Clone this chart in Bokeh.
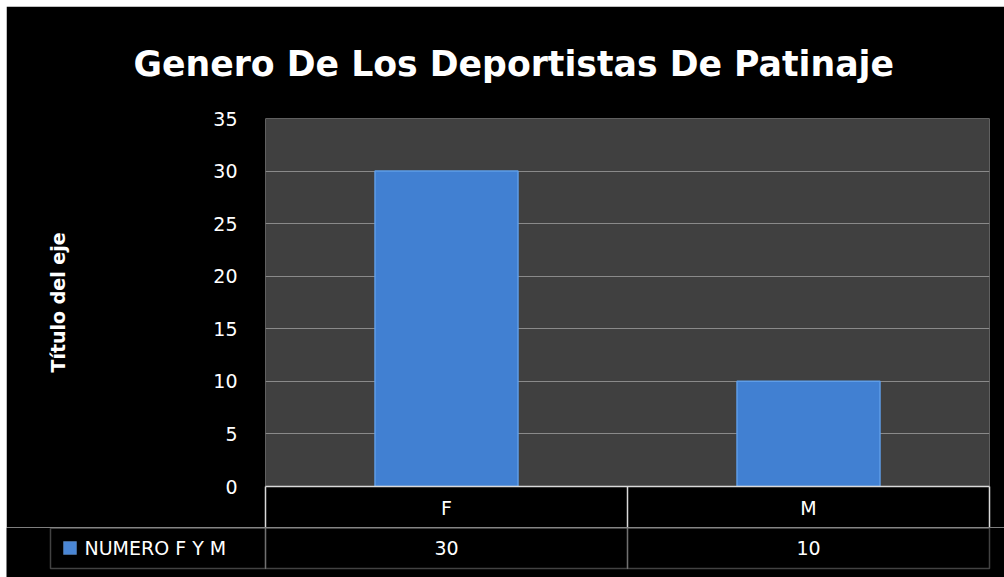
from bokeh.plotting import figure
from bokeh.layouts import column
from bokeh.models import Range1d, FixedTicker, Label, BoxAnnotation, ColumnDataSource
from bokeh.core.properties import value
from bokeh.embed import file_html
from bokeh.resources import INLINE

# ---- data ----
title_text = "Genero De Los Deportistas De Patinaje"
categories = ["F", "M"]
values = [30, 10]
series_name = "NUMERO F Y M"
y_ticks = [0, 5, 10, 15, 20, 25, 30, 35]
y_title = "Título del eje"

FONT = "DejaVu Sans"
LINE = "#d9d9d9"
PX_X = 362.0                 # px per category

def dx(px):                  # page x pixel -> category units
    return (px - 265.0) / PX_X

n = len(categories)
centers = [i + 0.5 for i in range(n)]
bounds = [float(i) for i in range(n + 1)]

# ---------------- top figure: title, plot area, category row ----------------
top = figure(width=998, height=521, output_backend="svg", toolbar_location=None,
             x_range=Range1d(0, n), y_range=Range1d(0, 35),
             margin=(6, 0, 0, 6),
             min_border_left=259, min_border_right=15, min_border_top=112,
             min_border_bottom=41)
top.frame_align = False
top.background_fill_color = "#404040"
top.border_fill_color = "black"
top.outline_line_color = None

top.title.text = title_text
top.title.text_color = "white"
top.title.text_font = FONT
top.title.text_font_style = "bold"
top.title.text_font_size = "34.7px"
top.title.align = "left"
top.title.offset = -132
top.title.standoff = 70

top.xgrid.visible = False
top.ygrid.ticker = FixedTicker(ticks=y_ticks)
top.ygrid.grid_line_color = "#8a8a8a"
top.ygrid.grid_line_width = 1

ay = top.yaxis[0]
ay.ticker = FixedTicker(ticks=y_ticks)
ay.axis_line_color = None
ay.major_tick_line_color = None
ay.minor_tick_line_color = None
ay.major_label_text_color = "white"
ay.major_label_text_font = FONT
ay.major_label_text_font_size = "19px"
ay.major_label_standoff = 22
ay.axis_label = y_title
ay.axis_label_text_color = "white"
ay.axis_label_text_font = FONT
ay.axis_label_text_font_style = "bold"
ay.axis_label_text_font_size = "19px"
ay.axis_label_standoff = 141

# x axis = first row of the data table (category names)
axx = top.xaxis[0]
axx.ticker = FixedTicker(ticks=centers, minor_ticks=bounds)
axx.major_label_overrides = {c: cat for c, cat in zip(centers, categories)}
axx.axis_line_color = LINE
axx.axis_line_width = 1.5
axx.major_tick_out = 0
axx.major_tick_in = 0
axx.major_tick_line_color = None
axx.minor_tick_in = 0
axx.minor_tick_out = 41
axx.minor_tick_line_color = LINE
axx.minor_tick_line_width = 1.5
axx.major_label_text_color = "white"
axx.major_label_text_font = FONT
axx.major_label_text_font_size = "19px"
axx.major_label_standoff = -31

src = ColumnDataSource(dict(x=centers, top=values, val=[str(v) for v in values]))
top.vbar(x="x", top="top", bottom=0, width=0.395, source=src,
         fill_color="#4180d2", line_color="#5e9de8", line_width=1.5)

# ---------------- bottom figure: series row of the data table ----------------
bot = figure(width=998, height=50, output_backend="svg", toolbar_location=None,
             x_range=Range1d(dx(6), dx(1004)), y_range=Range1d(577, 527),
             x_axis_location=None, y_axis_location=None, margin=(0, 0, 0, 6),
             min_border_left=0, min_border_right=0, min_border_top=0,
             min_border_bottom=0)
bot.frame_align = False
bot.background_fill_color = "black"
bot.border_fill_color = "black"
bot.outline_line_color = None
bot.grid.visible = False

ROW_TOP, ROW_BOT = 527.75, 568
line_kw = dict(fill_color=None, fill_alpha=0, line_color=LINE, line_width=1.5)
for i in range(n):
    bot.add_layout(BoxAnnotation(left=i, right=i + 1, top=ROW_TOP, bottom=ROW_BOT, **line_kw))
bot.add_layout(BoxAnnotation(left=dx(50), right=0, top=ROW_TOP, bottom=ROW_BOT, **line_kw))

r2 = (527 + ROW_BOT) / 2
bot.text(x="x", y=r2, text="val", source=src, text_color="white",
         text_font=value(FONT), text_font_size="19px", text_align="center",
         text_baseline="middle")

# legend key + series name
bot.add_layout(BoxAnnotation(left=dx(63), right=dx(76), top=541, bottom=554,
                             fill_color="#4a86d4", fill_alpha=1, line_color="#8bb8f0",
                             line_width=1))
bot.add_layout(Label(x=dx(84), y=r2, text=series_name, text_color="white",
                     text_font=FONT, text_font_size="19px", text_align="left",
                     text_baseline="middle"))

layout = column(top, bot, spacing=0)
open("out.html", "w").write(file_html(layout, INLINE))
